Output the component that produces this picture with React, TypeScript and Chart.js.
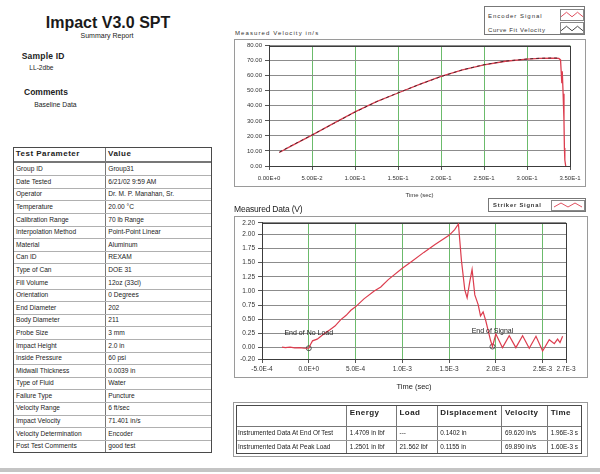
import React, { useEffect, useRef } from 'react';
import { Chart, registerables } from 'chart.js';

Chart.register(...registerables);

const FONT = '"Liberation Sans", Arial, Helvetica, sans-serif';
Chart.defaults.font.family = FONT;

// ---------- Measured velocity chart (top) ----------
const VEL_TIME = [0.012, 0.025, 0.05, 0.075, 0.1, 0.125, 0.15, 0.175, 0.2, 0.225, 0.25, 0.275, 0.3, 0.315, 0.33, 0.337, 0.339, 0.3405, 0.341, 0.342, 0.343, 0.3435, 0.344, 0.345];
const ENCODER_VEL = [9, 13, 20.5, 28.3, 36, 42.8, 48.5, 54.3, 59.5, 63.8, 67.2, 69.6, 71, 71.5, 71.7, 71.5, 70.5, 55, 63, 48, 30, 12, 4, 0];
const FIT_TIME = [0.012, 0.025, 0.05, 0.075, 0.1, 0.125, 0.15, 0.175, 0.2, 0.225, 0.25, 0.275, 0.3, 0.315, 0.33, 0.338];
const FIT_VEL = [9.2, 13.2, 20.6, 28.2, 35.8, 42.7, 48.6, 54.2, 59.4, 63.9, 67.3, 69.7, 71.1, 71.6, 71.8, 71.7];
const VEL_X_TICKS = [0, 0.05, 0.1, 0.15, 0.2, 0.25, 0.3, 0.35];
const VEL_X_LABELS = ['0.00E+0', '5.00E-2', '1.00E-1', '1.50E-1', '2.00E-1', '2.50E-1', '3.00E-1', '3.50E-1'];
const VEL_Y_TICKS = [0, 10, 20, 30, 40, 50, 60, 70, 80];
const VEL_Y_LABELS = ['0.00', '10.00', '20.00', '30.00', '40.00', '50.00', '60.00', '70.00', '80.00'];

// ---------- Measured data chart (bottom) ----------
const STRIKER_TIME = [
  -2.86e-4, -2.5e-4, -2.0e-4, -1.5e-4, -1.0e-4, -0.5e-4, 0, 0.2e-4, 0.4e-4, 0.9e-4, 1.3e-4, 1.6e-4, 2.3e-4, 2.8e-4, 3.4e-4, 4.0e-4, 4.5e-4, 5.0e-4, 5.9e-4, 7.0e-4, 7.7e-4, 8.5e-4, 1.0e-3, 1.1e-3, 1.23e-3, 1.35e-3, 1.5e-3, 1.56e-3, 1.6e-3,
  1.632e-3, 1.668e-3, 1.693e-3, 1.72e-3, 1.746e-3, 1.775e-3, 1.811e-3, 1.836e-3, 1.864e-3, 1.893e-3, 1.918e-3, 1.943e-3, 1.964e-3,
  2.0e-3, 2.071e-3, 2.143e-3, 2.214e-3, 2.286e-3, 2.357e-3, 2.429e-3, 2.5e-3, 2.571e-3, 2.625e-3, 2.66e-3, 2.686e-3, 2.714e-3,
];
const STRIKER_V = [
  0.01, 0.0, 0.01, -0.005, 0.0, -0.01, -0.01, 0.06, 0.12, 0.15, 0.2, 0.24, 0.32, 0.38, 0.49, 0.57, 0.66, 0.72, 0.86, 1.0, 1.07, 1.2, 1.4, 1.52, 1.68, 1.82, 1.98, 2.08, 2.18,
  1.54, 1.02, 0.88, 1.15, 1.38, 0.93, 0.76, 0.56, 0.63, 0.47, 0.3, 0.13, 0.02,
  0.24, 0.0, 0.21, 0.0, 0.21, -0.01, 0.2, -0.06, 0.14, 0.07, 0.15, 0.09, 0.2,
];
const EVENT_TIME = [0, 1.964e-3];
const EVENT_V = [-0.01, 0.02];
const EVENT_LABELS = ['End of No Load', 'End of Signal'];
const V_X_MIN = -5e-4;
const V_X_MAX = 2.75e-3;
const V_X_TICKS = [-5e-4, 0, 5e-4, 1e-3, 1.5e-3, 2e-3, 2.5e-3, 2.75e-3];
const V_X_LABELS = ['-5.0E-4', '0.0E+0', '5.0E-4', '1.0E-3', '1.5E-3', '2.0E-3', '2.5E-3', '2.7E-3'];
const V_Y_TICKS = [-0.2, 0, 0.25, 0.5, 0.75, 1.0, 1.25, 1.5, 1.75, 2.0, 2.2];
const V_Y_LABELS = ['-0.20', '0.00', '0.25', '0.50', '0.75', '1.00', '1.25', '1.50', '1.75', '2.00', '2.20'];

// ---------- Tables ----------
const PARAM_NAMES = ['Group ID', 'Date Tested', 'Operator', 'Temperature', 'Calibration Range', 'Interpolation Method', 'Material', 'Can ID', 'Type of Can', 'Fill Volume', 'Orientation', 'End Diameter', 'Body Diameter', 'Probe Size', 'Impact Height', 'Inside Pressure', 'Midwall Thickness', 'Type of Fluid', 'Failure Type', 'Velocity Range', 'Impact Velocity', 'Velocity Determination', 'Post Test Comments'];
const PARAM_VALUES = ['Group31', '6/21/02 9:59 AM', 'Dr. M. P. Manahan, Sr.', '20.00 °C', '70 lb Range', 'Point-Point Linear', 'Aluminum', 'REXAM', 'DOE 31', '12oz (33cl)', '0 Degrees', '202', '211', '3 mm', '2.0 in', '60 psi', '0.0039 in', 'Water', 'Puncture', '6 ft/sec', '71.401 in/s', 'Encoder', 'good test'];
const RESULT_HEADERS = ['Energy', 'Load', 'Displacement', 'Velocity', 'Time'];
const RESULT_ROWS = ['Instrumented Data At End Of Test', 'Instrumented Data At Peak Load'];
const RESULT_ENERGY = ['1.4709 in lbf', '1.2501 in lbf'];
const RESULT_LOAD = ['---', '21.562 lbf'];
const RESULT_DISP = ['0.1402 in', '0.1155 in'];
const RESULT_VEL = ['69.620 in/s', '69.890 in/s'];
const RESULT_TIME = ['1.96E-3 s', '1.60E-3 s'];

const GRID_V = 'rgba(70,170,70,0.8)';
const GRID_H = '#8c8c8c';
const RED = '#dc3d4e';

const fixTicks = (values: number[]) => (axis: any) => {
  axis.ticks = values.map((v) => ({ value: v }));
};

const framePlugin = {
  id: 'frame',
  beforeDatasetsDraw(chart: any) {
    const { ctx, chartArea: a } = chart;
    ctx.save();
    ctx.strokeStyle = '#3c3c3c';
    ctx.lineWidth = 1;
    ctx.strokeRect(Math.round(a.left) + 0.5, Math.round(a.top) + 0.5, Math.round(a.right - a.left), Math.round(a.bottom - a.top));
    ctx.restore();
  },
};

const eventLabelPlugin = {
  id: 'eventLabels',
  afterDatasetsDraw(chart: any) {
    const meta = chart.getDatasetMeta(1);
    const ctx = chart.ctx;
    ctx.save();
    ctx.font = `7px ${FONT}`;
    ctx.fillStyle = '#222';
    ctx.textAlign = 'center';
    ctx.textBaseline = 'middle';
    meta.data.forEach((el: any, i: number) => ctx.fillText(EVENT_LABELS[i], el.x, el.y - 15));
    ctx.restore();
  },
};

function makeVelocityChart(canvas: HTMLCanvasElement) {
  return new Chart(canvas, {
    type: 'line',
    data: {
      datasets: [
        {
          label: 'Encoder Signal',
          data: VEL_TIME.map((t, i) => ({ x: t, y: ENCODER_VEL[i] })),
          borderColor: RED,
          borderWidth: 1.3,
          pointRadius: 0,
          tension: 0,
          order: 2,
        },
        {
          label: 'Curve Fit Velocity',
          data: FIT_TIME.map((t, i) => ({ x: t, y: FIT_VEL[i] })),
          borderColor: '#3a2026',
          borderWidth: 0.9,
          borderDash: [3, 3],
          pointRadius: 0,
          tension: 0,
          order: 1,
        },
      ],
    },
    options: {
      animation: false,
      responsive: false,
      layout: { padding: { left: 0, top: 4, right: 16, bottom: 0 } },
      plugins: { legend: { display: false }, tooltip: { enabled: false } },
      scales: {
        x: {
          type: 'linear',
          min: 0,
          max: 0.35,
          afterBuildTicks: fixTicks(VEL_X_TICKS),
          afterFit: (s: any) => { s.height = 39; },
          ticks: { autoSkip: false, maxRotation: 0, minRotation: 0, font: { size: 6 }, color: '#333', padding: 5, callback: (_v: any, i: number) => VEL_X_LABELS[i] },
          grid: { color: GRID_V, tickColor: '#555', tickLength: 4 },
          border: { display: true, color: '#3c3c3c' },
          title: { display: true, text: 'Time (sec)', font: { size: 6 }, color: '#333', padding: { top: 0, bottom: 6 } },
        },
        y: {
          type: 'linear',
          min: 0,
          max: 80,
          afterBuildTicks: fixTicks(VEL_Y_TICKS),
          afterFit: (s: any) => { s.width = 35; },
          ticks: { font: { size: 6 }, color: '#333', padding: 3, callback: (_v: any, i: number) => VEL_Y_LABELS[i] },
          grid: { color: GRID_H, tickColor: '#555', tickLength: 4 },
          border: { display: true, color: '#3c3c3c' },
        },
      },
    },
    plugins: [framePlugin],
  } as any);
}

function makeStrikerChart(canvas: HTMLCanvasElement) {
  return new Chart(canvas, {
    type: 'line',
    data: {
      datasets: [
        {
          label: 'Striker Signal',
          data: STRIKER_TIME.map((t, i) => ({ x: t, y: STRIKER_V[i] })),
          borderColor: RED,
          borderWidth: 1.2,
          pointRadius: 0,
          tension: 0,
        },
        {
          label: 'Events',
          data: EVENT_TIME.map((t, i) => ({ x: t, y: EVENT_V[i] })),
          showLine: false,
          pointStyle: 'circle',
          pointRadius: 2.5,
          borderColor: '#333',
          borderWidth: 0.8,
          backgroundColor: 'rgba(0,0,0,0)',
        },
      ],
    },
    options: {
      animation: false,
      responsive: false,
      layout: { padding: { left: 0, top: 6, right: 20, bottom: 0 } },
      plugins: { legend: { display: false }, tooltip: { enabled: false } },
      scales: {
        x: {
          type: 'linear',
          min: V_X_MIN,
          max: V_X_MAX,
          afterBuildTicks: fixTicks(V_X_TICKS),
          afterFit: (s: any) => { s.height = 35; },
          ticks: { autoSkip: false, maxRotation: 0, minRotation: 0, font: { size: 6.5 }, color: '#333', padding: 2, callback: (_v: any, i: number) => V_X_LABELS[i] },
          grid: { color: GRID_V, tickColor: '#555', tickLength: 4 },
          border: { display: true, color: '#3c3c3c' },
          title: { display: true, text: 'Time (sec)', font: { size: 7.5 }, color: '#222', padding: { top: 0, bottom: 2.5 } },
        },
        y: {
          type: 'linear',
          min: -0.2,
          max: 2.2,
          afterBuildTicks: fixTicks(V_Y_TICKS),
          afterFit: (s: any) => { s.width = 28; },
          ticks: { font: { size: 6.5 }, color: '#333', padding: 3, callback: (_v: any, i: number) => V_Y_LABELS[i] },
          grid: { color: GRID_H, tickColor: '#555', tickLength: 4 },
          border: { display: true, color: '#3c3c3c' },
        },
      },
    },
    plugins: [framePlugin, eventLabelPlugin],
  } as any);
}

function ChartCanvas({ left, top, width, height, make }: { left: number; top: number; width: number; height: number; make: (c: HTMLCanvasElement) => Chart }) {
  const ref = useRef<HTMLCanvasElement>(null);
  useEffect(() => {
    const chart = make(ref.current as HTMLCanvasElement);
    return () => chart.destroy();
  }, []);
  return <canvas ref={ref} width={width} height={height} style={{ position: 'absolute', left, top, width, height }} />;
}

function Zigzag({ color, width = 24, height = 10 }: { color: string; width?: number; height?: number }) {
  const pts = [0, 0.25, 0.5, 0.75, 1].map((f, i) => `${f * width},${i % 2 === 0 ? height * 0.75 : height * 0.25}`).join(' ');
  return (
    <svg width={width} height={height} style={{ display: 'block' }}>
      <polyline points={pts} fill="none" stroke={color} strokeWidth={0.9} />
    </svg>
  );
}

const abs = (left: number, top: number, extra: React.CSSProperties = {}): React.CSSProperties => ({ position: 'absolute', left, top, whiteSpace: 'nowrap', ...extra });

function ParamTable() {
  const rowH = 12.6;
  return (
    <div style={{ position: 'absolute', left: 12.7, top: 146.7, width: 199.6, boxSizing: 'border-box', border: '1px solid #4a4a4a', fontSize: 6.6, color: '#222' }}>
      <div style={{ display: 'flex', height: 15, boxSizing: 'border-box', borderBottom: '2px solid #777', alignItems: 'center', fontWeight: 'bold', fontSize: 8, letterSpacing: 0.5 }}>
        <div style={{ width: 92.3, paddingLeft: 2, boxSizing: 'border-box', borderRight: '1px solid #777', height: '100%', display: 'flex', alignItems: 'center' }}>Test Parameter</div>
        <div style={{ paddingLeft: 2 }}>Value</div>
      </div>
      {PARAM_NAMES.map((name, i) => (
        <div key={name} style={{ display: 'flex', height: rowH, boxSizing: 'border-box', borderTop: i === 0 ? 'none' : '1px solid #b0b0b0', alignItems: 'center' }}>
          <div style={{ width: 92.3, paddingLeft: 2.3, boxSizing: 'border-box', borderRight: '1px solid #777', height: '100%', display: 'flex', alignItems: 'center' }}>{name}</div>
          <div style={{ paddingLeft: 2.3 }}>{PARAM_VALUES[i]}</div>
        </div>
      ))}
    </div>
  );
}

function ResultTable() {
  const cols = [111, 50, 41, 65, 46, 33];
  const cell = (w: number, last: boolean): React.CSSProperties => ({ width: w, boxSizing: 'border-box', borderRight: last ? 'none' : '1px solid #777', height: '100%', paddingLeft: 2.5, overflow: 'hidden' });
  const values = [RESULT_ENERGY, RESULT_LOAD, RESULT_DISP, RESULT_VEL, RESULT_TIME];
  return (
    <div style={{ position: 'absolute', left: 233, top: 402, width: 355, height: 55, boxSizing: 'border-box', border: '1px solid #9a9a9a' }}>
      <div style={{ position: 'absolute', left: 2, top: 2, width: 346, boxSizing: 'border-box', border: '1px solid #4a4a4a', color: '#222' }}>
        <div style={{ display: 'flex', height: 20.5, boxSizing: 'border-box', borderBottom: '1px solid #777', fontWeight: 'bold', fontSize: 8, letterSpacing: 0.4 }}>
          <div style={cell(cols[0], false)} />
          {RESULT_HEADERS.map((h, j) => (
            <div key={h} style={{ ...cell(cols[j + 1], j === RESULT_HEADERS.length - 1), paddingTop: 3 }}>{h}</div>
          ))}
        </div>
        {RESULT_ROWS.map((r, i) => (
          <div key={r} style={{ display: 'flex', height: 13.2, boxSizing: 'border-box', borderTop: i === 0 ? 'none' : '1px solid #999', fontSize: 6.4, alignItems: 'center' }}>
            <div style={{ ...cell(cols[0], false), paddingLeft: 1, display: 'flex', alignItems: 'center' }}>{r}</div>
            {values.map((arr, j) => (
              <div key={j} style={{ ...cell(cols[j + 1], j === values.length - 1), display: 'flex', alignItems: 'center' }}>{arr[i]}</div>
            ))}
          </div>
        ))}
      </div>
    </div>
  );
}

export default function App() {
  return (
    <div style={{ position: 'absolute', left: 0, top: 0, width: 600, height: 474, background: '#fff', overflow: 'hidden', fontFamily: FONT, color: '#222', lineHeight: 1 }}>
      {/* Header texts */}
      <div style={abs(0, 14.5, { width: 216, textAlign: 'center', fontSize: 16, fontWeight: 'bold', color: '#1a1a1a' })}>Impact V3.0 SPT</div>
      <div style={abs(0, 32, { width: 214, textAlign: 'center', fontSize: 7 })}>Summary Report</div>
      <div style={abs(21.7, 51.5, { fontSize: 8.5, fontWeight: 'bold', letterSpacing: 0.2 })}>Sample ID</div>
      <div style={abs(29.3, 64.8, { fontSize: 6.6 })}>LL-2dbe</div>
      <div style={abs(24, 87.8, { fontSize: 8.5, fontWeight: 'bold' })}>Comments</div>
      <div style={abs(34.3, 101.6, { fontSize: 6.8 })}>Baseline Data</div>

      <ParamTable />

      {/* Top chart */}
      <div style={{ position: 'absolute', left: 234, top: 39, width: 352, height: 148, boxSizing: 'border-box', border: '1px solid #9a9a9a' }} />
      <div style={abs(235, 30, { fontSize: 6, letterSpacing: 1.1, color: '#333' })}>Measured Velocity  in/s</div>
      <div style={{ position: 'absolute', left: 484, top: 6, width: 101, height: 29, boxSizing: 'border-box', border: '1px solid #777', background: '#fff' }}>
        <div style={abs(3, 5.5, { fontSize: 6, letterSpacing: 1, color: '#333' })}>Encoder Signal</div>
        <div style={abs(3, 19.5, { fontSize: 6, letterSpacing: 0.6, color: '#333' })}>Curve Fit Velocity</div>
        <div style={{ position: 'absolute', left: 75, top: 1.5, width: 24, height: 12, boxSizing: 'border-box', border: '1px solid #888', display: 'flex', alignItems: 'center' }}>
          <Zigzag color={RED} width={22} height={9} />
        </div>
        <div style={{ position: 'absolute', left: 75, top: 15, width: 24, height: 12, boxSizing: 'border-box', border: '1px solid #888', display: 'flex', alignItems: 'center' }}>
          <Zigzag color="#333" width={22} height={9} />
        </div>
      </div>
      <ChartCanvas left={234} top={39} width={352} height={166} make={makeVelocityChart} />

      {/* Bottom chart */}
      <div style={{ position: 'absolute', left: 234, top: 216, width: 354, height: 162, boxSizing: 'border-box', border: '1px solid #9a9a9a' }} />
      <div style={abs(234, 204.5, { fontSize: 8.5, letterSpacing: -0.2, color: '#222' })}>Measured Data (V)</div>
      <div style={{ position: 'absolute', left: 488, top: 198, width: 98, height: 14, boxSizing: 'border-box', border: '1px solid #777', background: '#fff' }}>
        <div style={abs(4, 3.5, { fontSize: 5.8, letterSpacing: 0.8, fontWeight: 'bold', color: '#333' })}>Striker Signal</div>
        <div style={{ position: 'absolute', left: 62, top: 0.5, width: 34, height: 11, boxSizing: 'border-box', border: '1px solid #888', display: 'flex', alignItems: 'center', justifyContent: 'center' }}>
          <Zigzag color={RED} width={28} height={8} />
        </div>
      </div>
      <ChartCanvas left={234} top={216} width={352} height={178} make={makeStrikerChart} />

      <ResultTable />

      {/* page edge */}
      <div style={{ position: 'absolute', left: 0, top: 468, width: 600, height: 4, background: '#c4c4c4' }} />
    </div>
  );
}
